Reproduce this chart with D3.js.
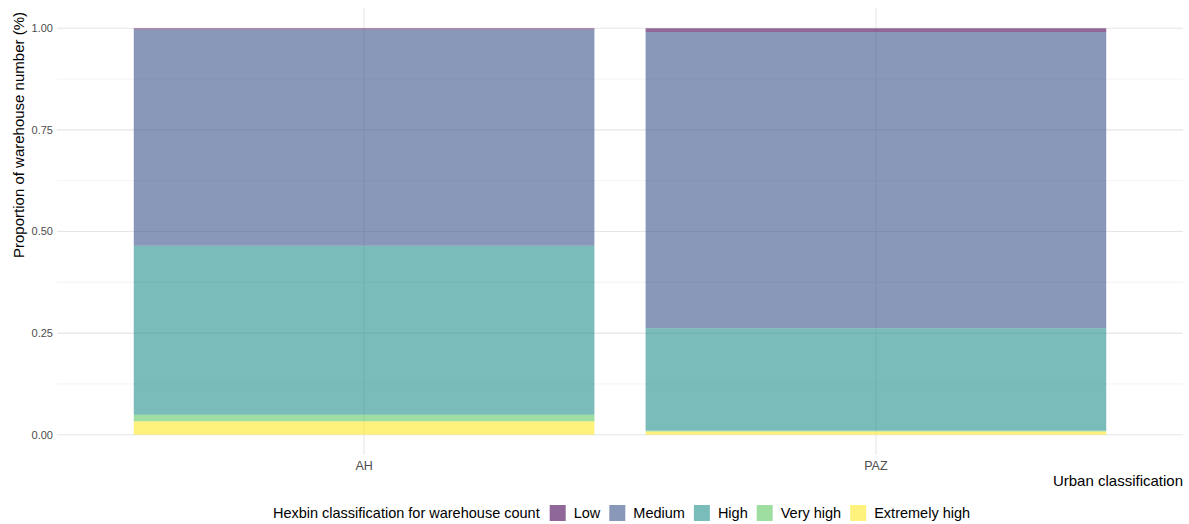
<!DOCTYPE html>
<meta charset="utf-8">
<head>
<title>Warehouse proportion</title>
<script src="https://cdn.jsdelivr.net/npm/d3@7"></script>
<style>
  body { margin: 0; background: #fff; }
  text { font-family: "Liberation Sans", Arial, sans-serif; }
</style>
</head>
<body>
<svg></svg>
<script>
// data
var zones = ["AH", "PAZ"];
var classes = ["Low", "Medium", "High", "Very high", "Extremely high"];
var low = [0.003, 0.009];
var medium = [0.532, 0.729];
var high = [0.416, 0.252];
var veryHigh = [0.016, 0.002];
var extremelyHigh = [0.033, 0.008];
var classColors = ["#440154", "#3B528B", "#21908C", "#5DC863", "#FDE725"];
var yTicks = [0, 0.25, 0.5, 0.75, 1];
var yMinor = [0.125, 0.375, 0.625, 0.875];

var W = 1189, H = 524;
var margin = {top: 8, right: 6, bottom: 69, left: 57};
var width = W - margin.left - margin.right;
var height = H - margin.top - margin.bottom;

var rows = zones.map(function(z, i) {
  return {zone: z, "Low": low[i], "Medium": medium[i], "High": high[i],
          "Very high": veryHigh[i], "Extremely high": extremelyHigh[i]};
});
// ggplot stacks the first level on top
var stack = d3.stack().keys(classes.slice().reverse());
var series = stack(rows);

var color = d3.scaleOrdinal().domain(classes).range(classColors);

// expansion of 0.6 on each side like ggplot discrete
var step = width / (zones.length - 1 + 1.2);
var x = d3.scalePoint().domain(zones).range([step * 0.6, width - step * 0.6]);
var bw = step * 0.9;
var y = d3.scaleLinear().domain([-0.05, 1.05]).range([height, 0]);

var svg = d3.select("svg").attr("width", W).attr("height", H);
var g = svg.append("g").attr("transform", "translate(" + margin.left + "," + margin.top + ")");

// grid
g.selectAll(".minor").data(yMinor).enter().append("line")
  .attr("x1", 0).attr("x2", width)
  .attr("y1", function(d) { return y(d); }).attr("y2", function(d) { return y(d); })
  .style("stroke", "#f0f0f0").style("stroke-width", 0.8);
g.selectAll(".major").data(yTicks).enter().append("line")
  .attr("x1", 0).attr("x2", width)
  .attr("y1", function(d) { return y(d); }).attr("y2", function(d) { return y(d); })
  .style("stroke", "#e6e6e6").style("stroke-width", 1.1);
g.selectAll(".vgrid").data(zones).enter().append("line")
  .attr("x1", function(d) { return x(d); }).attr("x2", function(d) { return x(d); })
  .attr("y1", 0).attr("y2", height)
  .style("stroke", "#e6e6e6").style("stroke-width", 1.1);

// bars
g.selectAll(".layer").data(series).enter().append("g")
  .style("fill", function(d) { return color(d.key); })
  .style("fill-opacity", 0.6)
  .selectAll("rect").data(function(d) { return d; }).enter().append("rect")
  .attr("x", function(d) { return x(d.data.zone) - bw / 2; })
  .attr("width", bw)
  .attr("y", function(d) { return y(d[1]); })
  .attr("height", function(d) { return y(d[0]) - y(d[1]); });

// y axis labels
g.selectAll(".ytick").data(yTicks).enter().append("text")
  .attr("x", -4).attr("y", function(d) { return y(d); })
  .attr("dy", "0.35em").style("text-anchor", "end")
  .style("font-size", "11px").style("fill", "#4d4d4d")
  .text(function(d) { return d3.format(".2f")(d); });

// x axis labels
g.selectAll(".xtick").data(zones).enter().append("text")
  .attr("x", function(d) { return x(d); }).attr("y", height + 15)
  .style("text-anchor", "middle").style("font-size", "12.5px").style("fill", "#4d4d4d")
  .text(function(d) { return d; });

svg.append("text")
  .attr("transform", "translate(24,135) rotate(-90)")
  .style("text-anchor", "middle").style("font-size", "15px").style("fill", "#000")
  .text("Proportion of warehouse number (%)");

svg.append("text")
  .attr("x", margin.left + width).attr("y", 486)
  .style("text-anchor", "end").style("font-size", "15px").style("fill", "#000")
  .text("Urban classification");

// legend
var leg = svg.append("g");
var ly = 513;
var title = leg.append("text").attr("x", 0).attr("y", ly).attr("dy", "0.35em")
  .style("font-size", "14.5px").text("Hexbin classification for warehouse count");
var cx = title.node().getComputedTextLength() + 10;
classes.forEach(function(c) {
  leg.append("rect").attr("x", cx).attr("y", ly - 8).attr("width", 16).attr("height", 16)
    .style("fill", color(c)).style("fill-opacity", 0.6);
  var t = leg.append("text").attr("x", cx + 24).attr("y", ly).attr("dy", "0.35em")
    .style("font-size", "14.5px").text(c);
  cx += 24 + t.node().getComputedTextLength() + 9;
});
var legW = cx - 9;
leg.attr("transform", "translate(" + (271 + (701 - legW) / 2) + ",0)");
</script>
</body>
